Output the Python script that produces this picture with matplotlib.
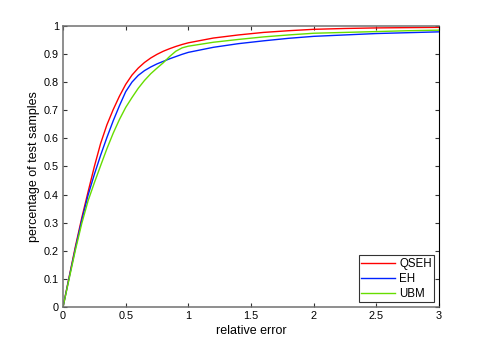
import matplotlib
matplotlib.use("Agg")
import matplotlib.pyplot as plt

x_vals = [0, 0.05, 0.1, 0.15, 0.2, 0.25, 0.3, 0.35, 0.4, 0.45, 0.5, 0.55, 0.6, 0.65, 0.7,
          0.75, 0.8, 0.85, 0.9, 0.95, 1.0, 1.2, 1.4, 1.6, 1.8, 2.0, 2.25, 2.5, 2.75, 3.0]
qseh = [0, 0.110, 0.218, 0.318, 0.410, 0.500, 0.582, 0.648, 0.702, 0.750, 0.792, 0.825,
        0.850, 0.870, 0.886, 0.899, 0.910, 0.919, 0.927, 0.934, 0.940, 0.957, 0.968, 0.977,
        0.983, 0.988, 0.991, 0.993, 0.994, 0.995]
eh = [0, 0.107, 0.212, 0.310, 0.398, 0.472, 0.540, 0.603, 0.662, 0.716, 0.766, 0.800,
      0.824, 0.841, 0.854, 0.865, 0.874, 0.883, 0.891, 0.899, 0.906, 0.924, 0.937, 0.947,
      0.956, 0.963, 0.968, 0.973, 0.976, 0.979]
ubm = [0, 0.103, 0.205, 0.298, 0.378, 0.442, 0.503, 0.563, 0.618, 0.667, 0.710, 0.745,
       0.778, 0.806, 0.830, 0.850, 0.869, 0.891, 0.910, 0.922, 0.928, 0.942, 0.952, 0.961,
       0.968, 0.974, 0.977, 0.980, 0.983, 0.985]
series_names = ["QSEH", "EH", "UBM"]
x_ticks = [0, 0.5, 1, 1.5, 2, 2.5, 3]
x_tick_labels = ["0", "0.5", "1", "1.5", "2", "2.5", "3"]
y_ticks = [0, 0.1, 0.2, 0.3, 0.4, 0.5, 0.6, 0.7, 0.8, 0.9, 1]
y_tick_labels = ["0", "0.1", "0.2", "0.3", "0.4", "0.5", "0.6", "0.7", "0.8", "0.9", "1"]

plt.rcParams['font.family'] = ['Liberation Sans', 'DejaVu Sans']

fig = plt.figure(figsize=(4.85, 3.46), dpi=100)
ax = fig.add_axes([0.130, 0.113, 0.775, 0.812])

colors = ['#ff0000', '#0022ff', '#66dd00']
for ys, name, c in zip([qseh, eh, ubm], series_names, colors):
    ax.plot(x_vals, ys, color=c, lw=1.0, label=name)

ax.set_xlim(0, 3)
ax.set_ylim(0, 1)
ax.set_xticks(x_ticks)
ax.set_xticklabels(x_tick_labels)
ax.set_yticks(y_ticks)
ax.set_yticklabels(y_tick_labels)
ax.tick_params(direction='in', length=3, width=0.8, labelsize=7.8,
               top=True, right=True, colors='#333333', labelcolor='black', pad=3)
for side in ['left', 'top', 'bottom']:
    ax.spines[side].set_color('#707070')
    ax.spines[side].set_linewidth(1.1)
ax.spines['right'].set_color('black')
ax.spines['right'].set_linewidth(0.8)

ax.set_xlabel('relative error', fontsize=9, labelpad=3)
ax.set_ylabel('percentage of test samples', fontsize=9, labelpad=3)

leg = ax.legend(loc='lower right', fontsize=8.3, frameon=True, fancybox=False,
                edgecolor='black', borderpad=0.2, handlelength=2.95,
                handletextpad=0.35, labelspacing=0.26, borderaxespad=0.43)
leg.get_frame().set_linewidth(0.8)

fig.savefig('out.png', dpi=100)
